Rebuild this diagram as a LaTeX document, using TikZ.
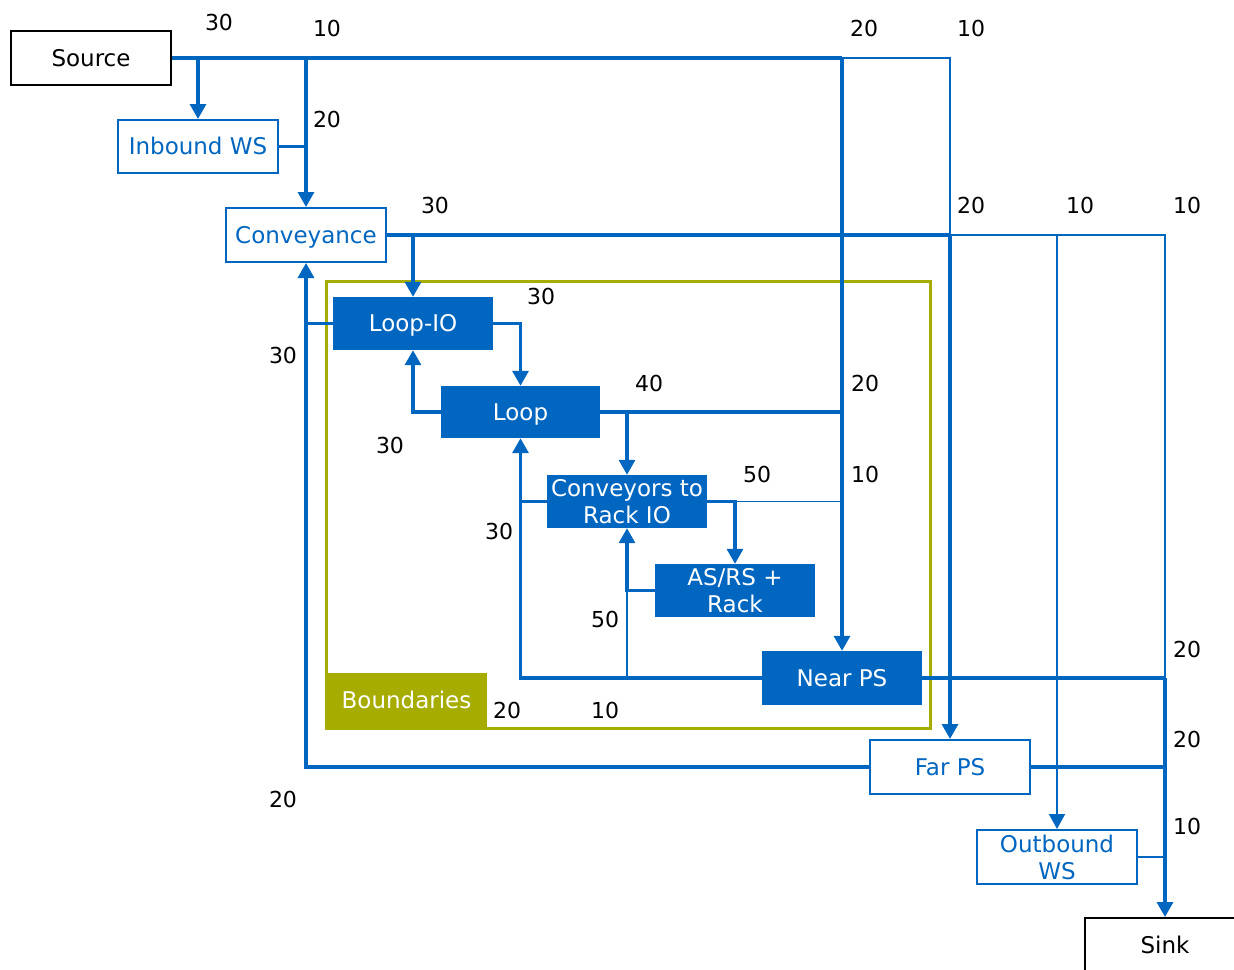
\documentclass[tikz,border=0pt]{standalone}
\usepackage{fontspec}
\setmainfont{DejaVu Sans}
\usetikzlibrary{arrows.meta}
\definecolor{dblue}{RGB}{0,102,192}
\definecolor{bolive}{RGB}{166,173,0}
\begin{document}
\begin{tikzpicture}[x=1pt,y=-1pt,
 W/.style={draw=dblue,line width=3.3pt},
 T/.style={draw=dblue,line width=2pt},
 H/.style={draw=dblue,line width=1.1pt},
 arr/.style={-{Triangle[width=16pt,length=15pt]}},
 nbox/.style={minimum width=160pt,minimum height=54pt,inner sep=0pt,font=\fontsize{23}{27}\selectfont,align=center},
 one/.style={text height=16.5pt,text depth=0pt},
 obox/.style={nbox,draw=dblue,line width=2pt,fill=white,text=dblue},
 fbox/.style={nbox,fill=dblue,text=white},
 kbox/.style={nbox,draw=black,line width=2pt,fill=white,text=black},
 lbl/.style={font=\fontsize{22}{26}\selectfont,inner sep=0pt,text=black}]
\useasboundingbox (0,0) rectangle (1234,969);

% boundary
\draw[bolive,line width=3pt] (326,281) rectangle (930,728);
\node[fill=bolive,text=white,minimum width=161pt,minimum height=55pt,inner sep=0pt,font=\fontsize{23}{27}\selectfont,one] (blab) at (406.5,700.5) {Boundaries};

% nodes
\node[kbox,one] (src) at (91,58) {Source};
\node[obox,one,minimum height=53pt] (inb) at (198,146.5) {Inbound WS};
\node[obox,one] (conv) at (306,235) {Conveyance};
\node[fbox,one,minimum height=53pt] (lio) at (413,323.5) {Loop-IO};
\node[fbox,one,minimum width=159pt,minimum height=52pt] (loop) at (520.5,412) {Loop};
\node[fbox,minimum height=53pt] (ctr) at (627,501.5) {Conveyors to\\Rack IO};
\node[fbox,minimum height=53pt] (asrs) at (735,590.5) {AS/RS +\\Rack};
\node[fbox,one] (near) at (842,678) {Near PS};
\node[obox,one] (far) at (950,767) {Far PS};
\node[obox,minimum height=54pt] (outb) at (1057,857) {Outbound\\WS};
\node[kbox,one] (sink) at (1165,945) {Sink};

% junction coordinates
\coordinate (jA) at (src.east -| near.north);
\coordinate (jB) at (src.east -| far.north);
\coordinate (jC) at (conv.east -| far.north);
\coordinate (jD) at (conv.east -| outb.north);
\coordinate (jE) at (conv.east -| sink.north);
\coordinate (jF) at (near.east -| sink.north);
\coordinate (jG) at (loop.east -| near.north);
\coordinate (jH) at (ctr.east -| asrs.north);
\coordinate (jI) at (ctr.east -| near.north);
\coordinate (jJ) at (asrs.west -| ctr.south);
\coordinate (jK) at (near.west -| ctr.south);

% source outputs
\draw[W] (src.east) -- (jA);
\draw[W,arr] (src.east -| inb.north) -- (inb.north);
\draw[W,arr] (src.east -| conv.north) -- (conv.north);
\draw[W] (inb.east) -- (inb.east -| conv.north);
\draw[W,arr] (jA) -- (near.north);
\draw[T] (jA) -- (jB) -- (jC);
\draw[W,arr] (jC) -- (far.north);

% conveyance outputs
\draw[W] (conv.east) -- (jC);
\draw[W,arr] (conv.east -| lio.north) -- (lio.north);
\draw[T,arr] (jC) -- (jD) -- (outb.north);
\draw[T] (jD) -- (jE) -- (jF);
\draw[W,arr] (jF) -- (sink.north);
\draw[W] (near.east) -- (jF);
\draw[W] (far.east) -- (far.east -| sink.north);
\draw[T] (outb.east) -- (outb.east -| sink.north);

% loop area
\draw[W,arr] (lio.east) -| (loop.north);
\draw[W,arr] (loop.west) -| (lio.south);
\draw[W] (lio.west) -- (lio.west -| conv.south);
\draw[W,arr] (far.west) -| (conv.south);
\draw[W] (loop.east) -- (jG);
\draw[W,arr] (loop.east -| ctr.north) -- (ctr.north);
\draw[W,arr] (ctr.east) -| (asrs.north);
\draw[H] (jH) -- (jI);
\draw[W,arr] (asrs.west) -| (ctr.south);
\draw[W,arr] (near.west) -| (loop.south);
\draw[W] (ctr.west) -- (ctr.west -| loop.south);
\draw[H] (jK) -- (jJ);

% labels
\node[lbl] (l1) at (219,22) {30};
\node[lbl] (l2) at (327,28) {10};
\node[lbl] (l3) at (327,119) {20};
\node[lbl] (l4) at (864,28) {20};
\node[lbl] (l5) at (971,28) {10};
\node[lbl] (l6) at (435,205) {30};
\node[lbl] (l7) at (971,205) {20};
\node[lbl] (l8) at (1080,205) {10};
\node[lbl] (l9) at (1187,205) {10};
\node[lbl] (l10) at (541,296) {30};
\node[lbl] (l11) at (283,355) {30};
\node[lbl] (l12) at (649,383) {40};
\node[lbl] (l13) at (865,383) {20};
\node[lbl] (l14) at (390,445) {30};
\node[lbl] (l15) at (757,474) {50};
\node[lbl] (l16) at (865,474) {10};
\node[lbl] (l17) at (499,531) {30};
\node[lbl] (l18) at (605,619) {50};
\node[lbl] (l19) at (1187,649) {20};
\node[lbl] (l20) at (507,710) {20};
\node[lbl] (l21) at (605,710) {10};
\node[lbl] (l22) at (1187,739) {20};
\node[lbl] (l23) at (283,799) {20};
\node[lbl] (l24) at (1187,826) {10};
\end{tikzpicture}
\end{document}
